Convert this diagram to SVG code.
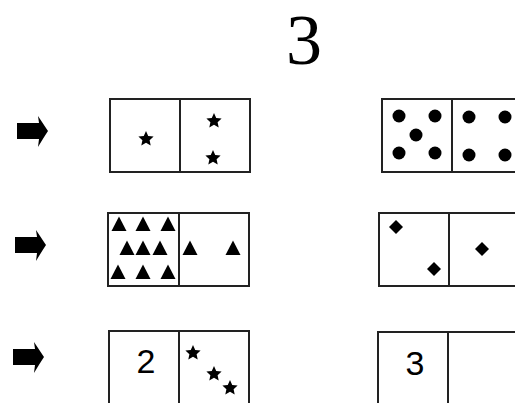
<svg xmlns="http://www.w3.org/2000/svg" xmlns:xlink="http://www.w3.org/1999/xlink" width="515" height="403" viewBox="0 0 515 403">
<style>
.box{fill:#fff;stroke:#222;stroke-width:2}
.div{stroke:#222;stroke-width:2}
.ink{fill:#000}
.num{font-family:"Liberation Sans",Arial,sans-serif;font-size:34px;fill:#000;text-anchor:middle}
.title{font-family:"Liberation Serif","Times New Roman",serif;font-size:72px;fill:#000;text-anchor:middle}
</style>
<defs>
<path id="star" class="ink" d="M0,-8 L2.23,-3.07 L7.61,-2.47 L3.61,1.17 L4.7,6.47 L0,3.8 L-4.7,6.47 L-3.61,1.17 L-7.61,-2.47 L-2.23,-3.07 Z"/>
<path id="tri" class="ink" d="M0,-7.5 L7.5,7 L-7.5,7 Z"/>
<path id="dia" class="ink" d="M0,-7 L7,0 L0,7 L-7,0 Z"/>
<circle id="dot" class="ink" r="6.5"/>
<path id="arrow" class="ink" d="M0,-8 H22 L21,-15 Q27,-6 31,0 Q27,6 21,16 L22,8 H0 Z"/>
</defs>
<text class="title" x="304" y="64">3</text>
<g id="arrows">
<use xlink:href="#arrow" x="17" y="131"/>
<use xlink:href="#arrow" x="15" y="245"/>
<use xlink:href="#arrow" x="13" y="357"/>
</g>
<g id="domino-1a">
<rect class="box" x="110" y="99" width="140" height="73"/>
<line class="div" x1="180" y1="99" x2="180" y2="172"/>
<use xlink:href="#star" x="146" y="139"/>
<use xlink:href="#star" x="214" y="121"/>
<use xlink:href="#star" x="213" y="158"/>
</g>
<g id="domino-1b">
<rect class="box" x="382" y="99" width="140" height="73"/>
<line class="div" x1="452" y1="99" x2="452" y2="172"/>
<use xlink:href="#dot" x="399" y="116"/>
<use xlink:href="#dot" x="435" y="116"/>
<use xlink:href="#dot" x="416" y="135"/>
<use xlink:href="#dot" x="399" y="153"/>
<use xlink:href="#dot" x="435" y="153"/>
<use xlink:href="#dot" x="469" y="117"/>
<use xlink:href="#dot" x="505" y="117"/>
<use xlink:href="#dot" x="469" y="155"/>
<use xlink:href="#dot" x="505" y="155"/>
</g>
<g id="domino-2a">
<rect class="box" x="108" y="213" width="141" height="73"/>
<line class="div" x1="179" y1="213" x2="179" y2="286"/>
<use xlink:href="#tri" x="119" y="224"/>
<use xlink:href="#tri" x="143" y="224"/>
<use xlink:href="#tri" x="168" y="224"/>
<use xlink:href="#tri" x="127" y="248"/>
<use xlink:href="#tri" x="143" y="248"/>
<use xlink:href="#tri" x="160" y="248"/>
<use xlink:href="#tri" x="118" y="272"/>
<use xlink:href="#tri" x="143" y="272"/>
<use xlink:href="#tri" x="168" y="272"/>
<use xlink:href="#tri" x="190" y="248"/>
<use xlink:href="#tri" x="233" y="248"/>
</g>
<g id="domino-2b">
<rect class="box" x="379" y="213" width="140" height="73"/>
<line class="div" x1="449" y1="213" x2="449" y2="286"/>
<use xlink:href="#dia" x="396" y="227"/>
<use xlink:href="#dia" x="434" y="269"/>
<use xlink:href="#dia" x="482" y="249"/>
</g>
<g id="domino-3a">
<rect class="box" x="109" y="331" width="140" height="75"/>
<line class="div" x1="179" y1="331" x2="179" y2="406"/>
<text class="num" x="146" y="373">2</text>
<use xlink:href="#star" x="193" y="353"/>
<use xlink:href="#star" x="214" y="374"/>
<use xlink:href="#star" x="230" y="388"/>
</g>
<g id="domino-3b">
<rect class="box" x="378" y="332" width="140" height="75"/>
<line class="div" x1="448" y1="332" x2="448" y2="407"/>
<text class="num" x="415" y="375">3</text>
</g>
</svg>
